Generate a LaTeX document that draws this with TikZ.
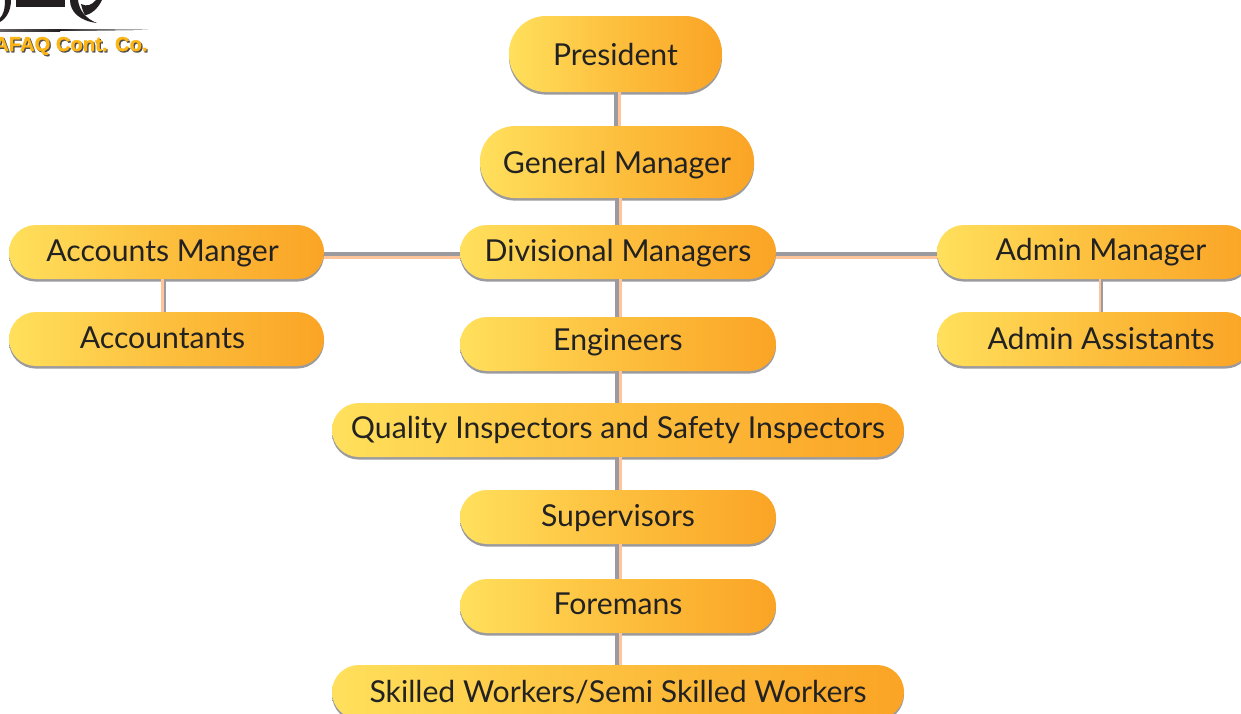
\documentclass[tikz,border=0pt]{standalone}
\usepackage{fontspec}
\setmainfont{Lato}
\newfontfamily\logofont{Liberation Sans}[BoldFeatures={FakeBold=1.2}]
\definecolor{boxL}{HTML}{FFE05C}
\definecolor{boxR}{HTML}{FBA425}
\definecolor{edgeG}{HTML}{9B9B9F}
\definecolor{edgeP}{HTML}{FFC49A}
\definecolor{ink}{HTML}{222222}
\definecolor{logoO}{HTML}{FDB515}
\definecolor{logoK}{HTML}{231F20}
\newcommand{\tmv}[2]{\raisebox{#1}[\height][\depth]{#2}}
\tikzset{
  pill/.style={rectangle,minimum width=#1,minimum height=54pt,inner sep=0pt,rounded corners=26.9pt,
    left color=boxL,right color=boxR,middle color=boxL!45!boxR,text=ink,
    font=\fontsize{30.2}{33}\selectfont,
    preaction={transform canvas={yshift=-2.6pt},left color=edgeG,right color=edgeG,middle color=edgeG}},
  gline/.style={draw=edgeG,line width=4pt},
  pline/.style={draw=edgeP,line width=3.4pt},
  gthin/.style={draw=edgeG,line width=2.6pt},
  pthin/.style={draw=edgeP,line width=2.4pt},
}
\newcommand{\vconn}[2]{%
  \draw[gline] ([xshift=-1pt]#2.north |- #1.south) -- ([xshift=-1pt]#2.north);
  \draw[pline] ([xshift=2.6pt]#2.north |- #1.south) -- ([xshift=2.6pt]#2.north);}
\newcommand{\hconn}[2]{%
  \draw[gline] ([yshift=-2pt]#1.east) -- ([yshift=-2pt]#2.west);
  \draw[pline] ([yshift=-5.6pt]#1.east) -- ([yshift=-5.6pt]#2.west);}
\begin{document}
\begin{tikzpicture}[x=1pt,y=-1pt]
\useasboundingbox (0,0) rectangle (1241,713);
\clip (0,0) rectangle (1241,713);
% logo
\fill[logoK] (16,0) rectangle (65,7);
\fill[logoK] (5,0) .. controls (5,10) and (3,15) .. (0,18) -- (0,22) .. controls (7,18) and (11,10) .. (11,0) -- cycle;
\fill[logoK] (70,0) .. controls (70,12) and (80,21) .. (97,23) .. controls (86,19) and (79,10) .. (78,0) -- cycle;
\fill[logoK] (81,4) .. controls (87,7) and (92,5) .. (96,0) -- (102,0) .. controls (98,9) and (90,15) .. (85,15) .. controls (83,12) and (82,8) .. (81,4) -- cycle;
\fill[left color=logoK!70,right color=logoK] (0,29) rectangle (60,31);
\fill[left color=logoK,right color=logoK!20] (60,29) -- (148,29.8) -- (60,31) -- cycle;
\node[anchor=base west,inner sep=0pt,font=\logofont\bfseries\fontsize{20.2}{24}\selectfont,text=logoO] (logo) at (-6,51)
  {\rlap{\kern1.3pt\raise-1.3pt\hbox{\color{logoK!80}AFAQ Cont. Co.}}AFAQ Cont. Co.};
% boxes
\node[pill=213pt,minimum height=76pt,rounded corners=37pt] (pres) at (615.5,54) {President};
\node[pill=274pt,minimum height=72pt,rounded corners=35pt] (gm) at (617,162) {\tmv{-3.5pt}{General Manager}};
\node[pill=316pt] (div) at (618,252) {\tmv{-1.2pt}{Divisional Managers}};
\node[pill=315pt] (acc) at (166.5,252) {\hbox{\tmv{-1pt}{Accounts Manger}\kern8pt}};
\node[pill=315pt] (accs) at (166.5,339) {\hbox{\tmv{1pt}{Accountants}\kern8pt}};
\node[pill=315pt] (adm) at (1094.5,252) {\hbox{\kern13pt Admin Manager}};
\node[pill=315pt] (adms) at (1094.5,339) {\hbox{\kern13pt \tmv{1pt}{Admin Assistants}}};
\node[pill=316pt] (eng) at (618,344) {\tmv{2pt}{Engineers}};
\node[pill=572pt] (qual) at (618,430) {Quality Inspectors and Safety Inspectors};
\node[pill=316pt] (sup) at (618,517) {\tmv{-1.5pt}{Supervisors}};
\node[pill=316pt] (fore) at (618,606) {\tmv{2pt}{Foremans}};
\node[pill=572pt] (skill) at (618,692) {Skilled Workers/Semi Skilled Workers};
% connectors
\vconn{pres}{gm}
\vconn{gm}{div}
\vconn{div}{eng}
\vconn{eng}{qual}
\vconn{qual}{sup}
\vconn{sup}{fore}
\vconn{fore}{skill}
\hconn{acc}{div}
\hconn{div}{adm}
\draw[gthin] ([xshift=-1.6pt]acc.south) -- ([xshift=-1.6pt]accs.north);
\draw[pthin] ([xshift=-4.1pt]acc.south) -- ([xshift=-4.1pt]accs.north);
\draw[gthin] ([xshift=7.6pt]adm.south) -- ([xshift=7.6pt]adms.north);
\draw[pthin] ([xshift=5.2pt]adm.south) -- ([xshift=5.2pt]adms.north);
\end{tikzpicture}
\end{document}
